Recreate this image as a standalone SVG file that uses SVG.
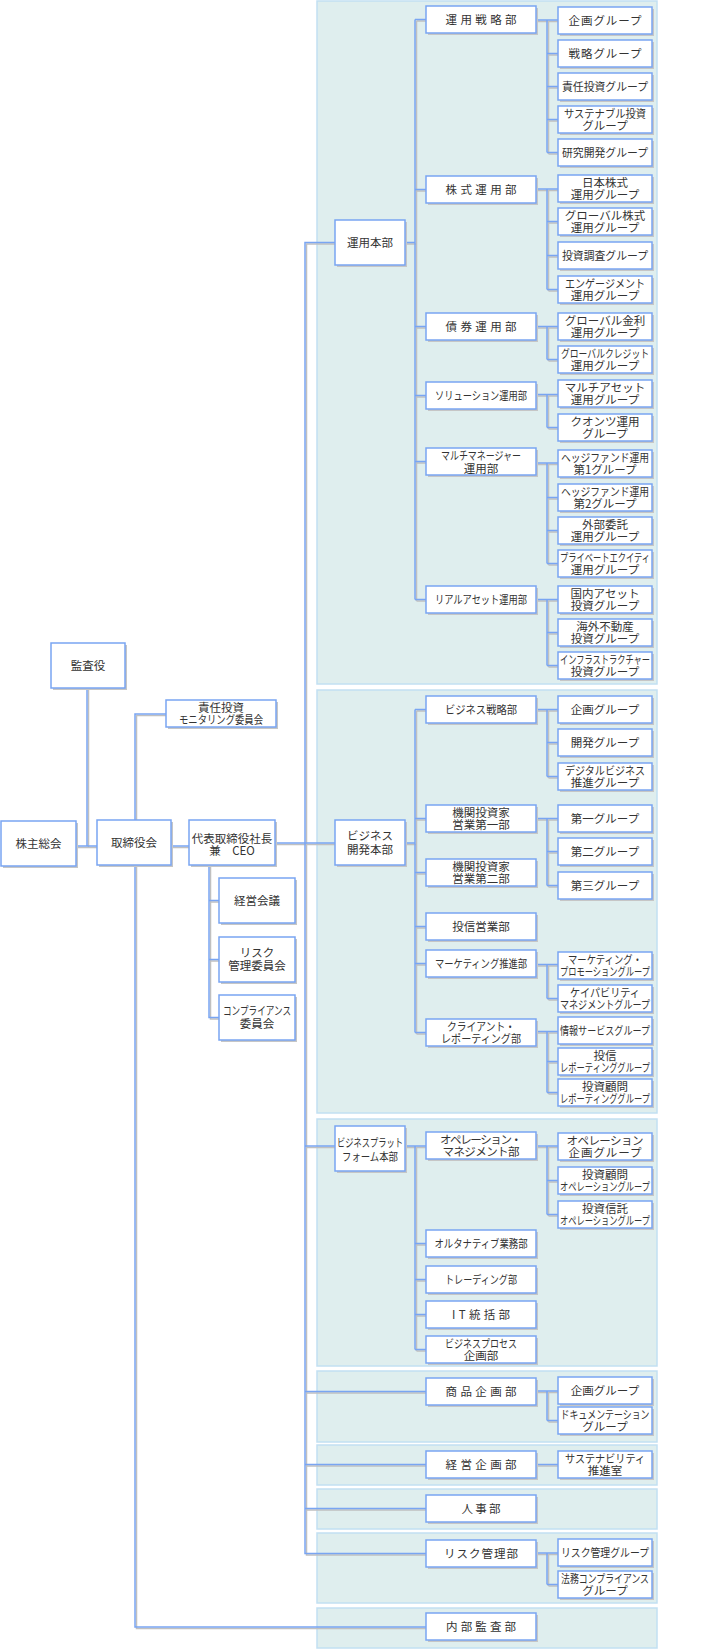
<svg xmlns="http://www.w3.org/2000/svg" xmlns:xlink="http://www.w3.org/1999/xlink" width="719" height="1649" viewBox="0 0 719 1649">
<style>
.bx{fill:#fff;stroke:#79a5f2;stroke-width:1.5}
.sh{fill:#c6c6c6}
.pn{fill:#dfeeee;stroke:#c2e0f2;stroke-width:1.5}
text{font-family:"Noto Sans CJK JP","Noto Sans",sans-serif;font-size:11.5px;fill:#333;text-anchor:middle}
</style>
<defs>
<g id="wires">
<path d="M87 688V846M76 846H97M135 820V714H166M135 865V1627H426M171 846H189M275 843H335M209 865V1017.5H219M209 900.5H219M209 959.5H219"/>
<path d="M335 242.5H305V1553.5H426M305 1146H335M305 1391.5H426M305 1464.5H426M305 1508.5H426"/>
<path d="M405 242.5H415M415 19.5V599.5M415 19.5H426M415 189.5H426M415 326.5H426M415 395.5H426M415 461.5H426M415 599.5H426"/>
<path d="M536 20H558M547 20V152.5M547 53.5H558M547 86.5H558M547 119.5H558M547 152.5H558"/>
<path d="M536 189H558M547 189V289.5M547 221.5H558M547 255.5H558M547 289.5H558"/>
<path d="M536 326.5H558M547 326.5V359.5M547 359.5H558"/>
<path d="M536 394.5H558M547 394.5V427.5M547 427.5H558"/>
<path d="M536 463H558M547 463V563.5M547 497.5H558M547 530.5H558M547 563.5H558"/>
<path d="M536 599.5H558M547 599.5V665.5M547 632.5H558M547 665.5H558"/>
<path d="M405 843H415M415 709.5V1032.5M415 709.5H426M415 818.5H426M415 872.5H426M415 926.5H426M415 963.5H426M415 1032.5H426"/>
<path d="M536 709.5H558M547 709.5V776.5M547 742.5H558M547 776.5H558"/>
<path d="M536 818.5H558M547 818.5V885.5M547 851.5H558M547 885.5H558"/>
<path d="M536 964.5H558M547 964.5V998.5M547 998.5H558"/>
<path d="M536 1031.5H558M547 1031.5V1092.5M547 1061.5H558M547 1092.5H558"/>
<path d="M405 1146H426M415 1146V1349.5M415 1243.5H426M415 1279.5H426M415 1314.5H426M415 1349.5H426"/>
<path d="M536 1146H558M547 1146V1214.5M547 1180.5H558M547 1214.5H558"/>
<path d="M536 1391H558M547 1391V1420.5M547 1420.5H558"/>
<path d="M536 1464.5H558"/>
<path d="M536 1553H558M547 1553V1584.5M547 1584.5H558"/>
</g>
</defs>

<g id="panels">
<rect class="pn" x="317" y="1" width="340" height="683"/>
<rect class="pn" x="317" y="690" width="340" height="423"/>
<rect class="pn" x="317" y="1119" width="340" height="247"/>
<rect class="pn" x="317" y="1371" width="340" height="71"/>
<rect class="pn" x="317" y="1445" width="340" height="40"/>
<rect class="pn" x="317" y="1489" width="340" height="40"/>
<rect class="pn" x="317" y="1533" width="340" height="70"/>
<rect class="pn" x="317" y="1608" width="340" height="40"/>
</g>

<g id="connectors" fill="none" stroke-width="1.5">
<use xlink:href="#wires" href="#wires" stroke="#c0c0c0" transform="translate(1.5,1.5)"/>
<g stroke="#79a5f2"><use xlink:href="#wires" href="#wires"/></g>
</g>

<g id="n-kansayaku"><rect class="sh" x="53" y="645" width="74" height="45"/><rect class="bx" x="51" y="643" width="74" height="45"/><text x="88" y="670">監査役</text></g>
<g id="n-kabunushi"><rect class="sh" x="3" y="823" width="75" height="45"/><rect class="bx" x="1" y="821" width="75" height="45"/><text x="38.5" y="848">株主総会</text></g>
<g id="n-torishimariyaku"><rect class="sh" x="99" y="822" width="74" height="45"/><rect class="bx" x="97" y="820" width="74" height="45"/><text x="134" y="847">取締役会</text></g>
<g id="n-ceo"><rect class="sh" x="191" y="822" width="86" height="45"/><rect class="bx" x="189" y="820" width="86" height="45"/><text><tspan x="232" y="842.5">代表取締役社長</tspan><tspan x="232" y="854.5">兼　CEO</tspan></text></g>
<g id="n-monitoring"><rect class="sh" x="168" y="702" width="110" height="27"/><rect class="bx" x="166" y="700" width="110" height="27"/><text><tspan x="221" y="711.5">責任投資</tspan><tspan x="221" y="724" textLength="84" lengthAdjust="spacingAndGlyphs">モニタリング委員会</tspan></text></g>
<g id="n-keiei-kaigi"><rect class="sh" x="221" y="880" width="76" height="45"/><rect class="bx" x="219" y="878" width="76" height="45"/><text x="257" y="905">経営会議</text></g>
<g id="n-risk-iinkai"><rect class="sh" x="221" y="939" width="76" height="45"/><rect class="bx" x="219" y="937" width="76" height="45"/><text><tspan x="257" y="957">リスク</tspan><tspan x="257" y="970">管理委員会</tspan></text></g>
<g id="n-compliance-iinkai"><rect class="sh" x="221" y="997" width="76" height="45"/><rect class="bx" x="219" y="995" width="76" height="45"/><text><tspan x="257" y="1015" textLength="68" lengthAdjust="spacingAndGlyphs">コンプライアンス</tspan><tspan x="257" y="1028">委員会</tspan></text></g>

<g id="n-unyo-honbu"><rect class="sh" x="337" y="222" width="70" height="45"/><rect class="bx" x="335" y="220" width="70" height="45"/><text x="370" y="247">運用本部</text></g>
<g id="n-bizdev-honbu"><rect class="sh" x="337" y="822" width="70" height="45"/><rect class="bx" x="335" y="820" width="70" height="45"/><text><tspan x="370" y="839.5">ビジネス</tspan><tspan x="370" y="853.5">開発本部</tspan></text></g>
<g id="n-bizplat-honbu"><rect class="sh" x="337" y="1128" width="70" height="45"/><rect class="bx" x="335" y="1126" width="70" height="45"/><text><tspan x="370" y="1147" textLength="66" lengthAdjust="spacingAndGlyphs">ビジネスプラット</tspan><tspan x="370" y="1161" textLength="56" lengthAdjust="spacingAndGlyphs">フォーム本部</tspan></text></g>

<g id="n-unyo-senryaku"><rect class="sh" x="428" y="8" width="110" height="27"/><rect class="bx" x="426" y="6" width="110" height="27"/><text x="481" y="23.5" textLength="71" lengthAdjust="spacing">運用戦略部</text></g>
<g id="n-kabushiki"><rect class="sh" x="428" y="178" width="110" height="27"/><rect class="bx" x="426" y="176" width="110" height="27"/><text x="481" y="193.5" textLength="71" lengthAdjust="spacing">株式運用部</text></g>
<g id="n-saiken"><rect class="sh" x="428" y="315" width="110" height="27"/><rect class="bx" x="426" y="313" width="110" height="27"/><text x="481" y="330.5" textLength="71" lengthAdjust="spacing">債券運用部</text></g>
<g id="n-solution"><rect class="sh" x="428" y="384" width="110" height="27"/><rect class="bx" x="426" y="382" width="110" height="27"/><text x="481" y="399.5" textLength="92" lengthAdjust="spacingAndGlyphs">ソリューション運用部</text></g>
<g id="n-multi"><rect class="sh" x="428" y="450" width="110" height="27"/><rect class="bx" x="426" y="448" width="110" height="27"/><text><tspan x="481" y="459.5" textLength="80" lengthAdjust="spacingAndGlyphs">マルチマネージャー</tspan><tspan x="481" y="472.5">運用部</tspan></text></g>
<g id="n-realasset"><rect class="sh" x="428" y="588" width="110" height="27"/><rect class="bx" x="426" y="586" width="110" height="27"/><text x="481" y="603.5" textLength="92" lengthAdjust="spacingAndGlyphs">リアルアセット運用部</text></g>

<g id="g-kikaku1"><rect class="sh" x="560" y="9" width="94" height="27"/><rect class="bx" x="558" y="7" width="94" height="27"/><text x="605" y="24.5" textLength="73" lengthAdjust="spacing">企画グループ</text></g>
<g id="g-senryaku"><rect class="sh" x="560" y="42" width="94" height="27"/><rect class="bx" x="558" y="40" width="94" height="27"/><text x="605" y="57.5" textLength="73" lengthAdjust="spacing">戦略グループ</text></g>
<g id="g-sekinin"><rect class="sh" x="560" y="75" width="94" height="27"/><rect class="bx" x="558" y="73" width="94" height="27"/><text x="605" y="90.5" textLength="86" lengthAdjust="spacingAndGlyphs">責任投資グループ</text></g>
<g id="g-sustainable"><rect class="sh" x="560" y="108" width="94" height="27"/><rect class="bx" x="558" y="106" width="94" height="27"/><text><tspan x="605" y="117.5" textLength="82" lengthAdjust="spacingAndGlyphs">サステナブル投資</tspan><tspan x="605" y="130">グループ</tspan></text></g>
<g id="g-kenkyu"><rect class="sh" x="560" y="141" width="94" height="27"/><rect class="bx" x="558" y="139" width="94" height="27"/><text x="605" y="156.5" textLength="86" lengthAdjust="spacingAndGlyphs">研究開発グループ</text></g>

<g id="g-nihon"><rect class="sh" x="560" y="177" width="94" height="27"/><rect class="bx" x="558" y="175" width="94" height="27"/><text><tspan x="605" y="186.5">日本株式</tspan><tspan x="605" y="199">運用グループ</tspan></text></g>
<g id="g-global-kabu"><rect class="sh" x="560" y="210" width="94" height="27"/><rect class="bx" x="558" y="208" width="94" height="27"/><text><tspan x="605" y="219.5">グローバル株式</tspan><tspan x="605" y="232">運用グループ</tspan></text></g>
<g id="g-chosa"><rect class="sh" x="560" y="244" width="94" height="27"/><rect class="bx" x="558" y="242" width="94" height="27"/><text x="605" y="259.5" textLength="86" lengthAdjust="spacingAndGlyphs">投資調査グループ</text></g>
<g id="g-engagement"><rect class="sh" x="560" y="278" width="94" height="27"/><rect class="bx" x="558" y="276" width="94" height="27"/><text><tspan x="605" y="287.5" textLength="80" lengthAdjust="spacingAndGlyphs">エンゲージメント</tspan><tspan x="605" y="300">運用グループ</tspan></text></g>
<g id="g-kinri"><rect class="sh" x="560" y="315" width="94" height="27"/><rect class="bx" x="558" y="313" width="94" height="27"/><text><tspan x="605" y="324.5">グローバル金利</tspan><tspan x="605" y="337">運用グループ</tspan></text></g>
<g id="g-credit"><rect class="sh" x="560" y="348" width="94" height="27"/><rect class="bx" x="558" y="346" width="94" height="27"/><text><tspan x="605" y="357.5" textLength="88" lengthAdjust="spacingAndGlyphs">グローバルクレジット</tspan><tspan x="605" y="370">運用グループ</tspan></text></g>
<g id="g-multiasset"><rect class="sh" x="560" y="382" width="94" height="27"/><rect class="bx" x="558" y="380" width="94" height="27"/><text><tspan x="605" y="391.5">マルチアセット</tspan><tspan x="605" y="404">運用グループ</tspan></text></g>
<g id="g-quants"><rect class="sh" x="560" y="416" width="94" height="27"/><rect class="bx" x="558" y="414" width="94" height="27"/><text><tspan x="605" y="425.5">クオンツ運用</tspan><tspan x="605" y="438">グループ</tspan></text></g>
<g id="g-hedge1"><rect class="sh" x="560" y="452" width="94" height="27"/><rect class="bx" x="558" y="450" width="94" height="27"/><text><tspan x="605" y="461.5" textLength="88" lengthAdjust="spacingAndGlyphs">ヘッジファンド運用</tspan><tspan x="605" y="474">第1グループ</tspan></text></g>
<g id="g-hedge2"><rect class="sh" x="560" y="486" width="94" height="27"/><rect class="bx" x="558" y="484" width="94" height="27"/><text><tspan x="605" y="495.5" textLength="88" lengthAdjust="spacingAndGlyphs">ヘッジファンド運用</tspan><tspan x="605" y="508">第2グループ</tspan></text></g>
<g id="g-gaibu"><rect class="sh" x="560" y="519" width="94" height="27"/><rect class="bx" x="558" y="517" width="94" height="27"/><text><tspan x="605" y="528.5">外部委託</tspan><tspan x="605" y="541">運用グループ</tspan></text></g>
<g id="g-pe"><rect class="sh" x="560" y="552" width="94" height="27"/><rect class="bx" x="558" y="550" width="94" height="27"/><text><tspan x="605" y="561.5" textLength="90" lengthAdjust="spacingAndGlyphs">プライベートエクイティ</tspan><tspan x="605" y="574">運用グループ</tspan></text></g>
<g id="g-kokunai"><rect class="sh" x="560" y="588" width="94" height="27"/><rect class="bx" x="558" y="586" width="94" height="27"/><text><tspan x="605" y="597.5">国内アセット</tspan><tspan x="605" y="610">投資グループ</tspan></text></g>
<g id="g-kaigai"><rect class="sh" x="560" y="621" width="94" height="27"/><rect class="bx" x="558" y="619" width="94" height="27"/><text><tspan x="605" y="630.5">海外不動産</tspan><tspan x="605" y="643">投資グループ</tspan></text></g>
<g id="g-infra"><rect class="sh" x="560" y="654" width="94" height="27"/><rect class="bx" x="558" y="652" width="94" height="27"/><text><tspan x="605" y="663.5" textLength="90" lengthAdjust="spacingAndGlyphs">インフラストラクチャー</tspan><tspan x="605" y="676">投資グループ</tspan></text></g>

<g id="n-biz-senryaku"><rect class="sh" x="428" y="698" width="110" height="27"/><rect class="bx" x="426" y="696" width="110" height="27"/><text x="481" y="713.5" textLength="72" lengthAdjust="spacingAndGlyphs">ビジネス戦略部</text></g>
<g id="n-kikan1"><rect class="sh" x="428" y="807" width="110" height="27"/><rect class="bx" x="426" y="805" width="110" height="27"/><text><tspan x="481" y="816.5">機関投資家</tspan><tspan x="481" y="829">営業第一部</tspan></text></g>
<g id="n-kikan2"><rect class="sh" x="428" y="861" width="110" height="27"/><rect class="bx" x="426" y="859" width="110" height="27"/><text><tspan x="481" y="870.5">機関投資家</tspan><tspan x="481" y="883">営業第二部</tspan></text></g>
<g id="n-toshin-eigyo"><rect class="sh" x="428" y="915" width="110" height="27"/><rect class="bx" x="426" y="913" width="110" height="27"/><text x="481" y="930.5">投信営業部</text></g>
<g id="n-marketing"><rect class="sh" x="428" y="952" width="110" height="27"/><rect class="bx" x="426" y="950" width="110" height="27"/><text x="481" y="967.5" textLength="92" lengthAdjust="spacingAndGlyphs">マーケティング推進部</text></g>
<g id="n-client"><rect class="sh" x="428" y="1021" width="110" height="27"/><rect class="bx" x="426" y="1019" width="110" height="27"/><text><tspan x="481" y="1030.5" textLength="68" lengthAdjust="spacingAndGlyphs">クライアント・</tspan><tspan x="481" y="1043" textLength="80" lengthAdjust="spacingAndGlyphs">レポーティング部</tspan></text></g>

<g id="g-kikaku2"><rect class="sh" x="560" y="698" width="94" height="27"/><rect class="bx" x="558" y="696" width="94" height="27"/><text x="605" y="713.5">企画グループ</text></g>
<g id="g-kaihatsu"><rect class="sh" x="560" y="731" width="94" height="27"/><rect class="bx" x="558" y="729" width="94" height="27"/><text x="605" y="746.5">開発グループ</text></g>
<g id="g-digital"><rect class="sh" x="560" y="765" width="94" height="27"/><rect class="bx" x="558" y="763" width="94" height="27"/><text><tspan x="605" y="774.5" textLength="80" lengthAdjust="spacingAndGlyphs">デジタルビジネス</tspan><tspan x="605" y="787">推進グループ</tspan></text></g>
<g id="g-dai1"><rect class="sh" x="560" y="807" width="94" height="27"/><rect class="bx" x="558" y="805" width="94" height="27"/><text x="605" y="822.5">第一グループ</text></g>
<g id="g-dai2"><rect class="sh" x="560" y="840" width="94" height="27"/><rect class="bx" x="558" y="838" width="94" height="27"/><text x="605" y="855.5">第二グループ</text></g>
<g id="g-dai3"><rect class="sh" x="560" y="874" width="94" height="27"/><rect class="bx" x="558" y="872" width="94" height="27"/><text x="605" y="889.5">第三グループ</text></g>
<g id="g-promotion"><rect class="sh" x="560" y="954" width="94" height="27"/><rect class="bx" x="558" y="952" width="94" height="27"/><text><tspan x="605" y="963.5" textLength="74" lengthAdjust="spacingAndGlyphs">マーケティング・</tspan><tspan x="605" y="976" textLength="90" lengthAdjust="spacingAndGlyphs">プロモーショングループ</tspan></text></g>
<g id="g-capability"><rect class="sh" x="560" y="987" width="94" height="27"/><rect class="bx" x="558" y="985" width="94" height="27"/><text><tspan x="605" y="996.5" textLength="70" lengthAdjust="spacingAndGlyphs">ケイパビリティ</tspan><tspan x="605" y="1009" textLength="90" lengthAdjust="spacingAndGlyphs">マネジメントグループ</tspan></text></g>
<g id="g-johoservice"><rect class="sh" x="560" y="1019" width="94" height="27"/><rect class="bx" x="558" y="1017" width="94" height="27"/><text x="605" y="1034.5" textLength="90" lengthAdjust="spacingAndGlyphs">情報サービスグループ</text></g>
<g id="g-toshin-rep"><rect class="sh" x="560" y="1050" width="94" height="27"/><rect class="bx" x="558" y="1048" width="94" height="27"/><text><tspan x="605" y="1059.5">投信</tspan><tspan x="605" y="1072" textLength="90" lengthAdjust="spacingAndGlyphs">レポーティンググループ</tspan></text></g>
<g id="g-komon-rep"><rect class="sh" x="560" y="1081" width="94" height="27"/><rect class="bx" x="558" y="1079" width="94" height="27"/><text><tspan x="605" y="1090.5">投資顧問</tspan><tspan x="605" y="1103" textLength="90" lengthAdjust="spacingAndGlyphs">レポーティンググループ</tspan></text></g>

<g id="n-operation"><rect class="sh" x="428" y="1134" width="110" height="27"/><rect class="bx" x="426" y="1132" width="110" height="27"/><text><tspan x="481" y="1143.5" textLength="82" lengthAdjust="spacing">オペレーション・</tspan><tspan x="481" y="1156" textLength="77" lengthAdjust="spacing">マネジメント部</tspan></text></g>
<g id="n-alternative"><rect class="sh" x="428" y="1232" width="110" height="27"/><rect class="bx" x="426" y="1230" width="110" height="27"/><text x="481" y="1247.5" textLength="93" lengthAdjust="spacingAndGlyphs">オルタナティブ業務部</text></g>
<g id="n-trading"><rect class="sh" x="428" y="1268" width="110" height="27"/><rect class="bx" x="426" y="1266" width="110" height="27"/><text x="481" y="1283.5" textLength="72" lengthAdjust="spacingAndGlyphs">トレーディング部</text></g>
<g id="n-it"><rect class="sh" x="428" y="1303" width="110" height="27"/><rect class="bx" x="426" y="1301" width="110" height="27"/><text x="481" y="1318.5" textLength="58" lengthAdjust="spacing">IT統括部</text></g>
<g id="n-bizprocess"><rect class="sh" x="428" y="1338" width="110" height="27"/><rect class="bx" x="426" y="1336" width="110" height="27"/><text><tspan x="481" y="1347.5" textLength="72" lengthAdjust="spacingAndGlyphs">ビジネスプロセス</tspan><tspan x="481" y="1360">企画部</tspan></text></g>

<g id="g-ope-kikaku"><rect class="sh" x="560" y="1135" width="94" height="27"/><rect class="bx" x="558" y="1133" width="94" height="27"/><text><tspan x="605" y="1144.5" textLength="77" lengthAdjust="spacing">オペレーション</tspan><tspan x="605" y="1157" textLength="73" lengthAdjust="spacing">企画グループ</tspan></text></g>
<g id="g-komon-ope"><rect class="sh" x="560" y="1169" width="94" height="27"/><rect class="bx" x="558" y="1167" width="94" height="27"/><text><tspan x="605" y="1178.5">投資顧問</tspan><tspan x="605" y="1191" textLength="90" lengthAdjust="spacingAndGlyphs">オペレーショングループ</tspan></text></g>
<g id="g-shintaku-ope"><rect class="sh" x="560" y="1203" width="94" height="27"/><rect class="bx" x="558" y="1201" width="94" height="27"/><text><tspan x="605" y="1212.5">投資信託</tspan><tspan x="605" y="1225" textLength="90" lengthAdjust="spacingAndGlyphs">オペレーショングループ</tspan></text></g>

<g id="n-shohin"><rect class="sh" x="428" y="1380" width="110" height="27"/><rect class="bx" x="426" y="1378" width="110" height="27"/><text x="481" y="1395.5" textLength="71" lengthAdjust="spacing">商品企画部</text></g>
<g id="g-kikaku3"><rect class="sh" x="560" y="1379" width="94" height="27"/><rect class="bx" x="558" y="1377" width="94" height="27"/><text x="605" y="1394.5">企画グループ</text></g>
<g id="g-document"><rect class="sh" x="560" y="1409" width="94" height="27"/><rect class="bx" x="558" y="1407" width="94" height="27"/><text><tspan x="605" y="1418.5" textLength="89" lengthAdjust="spacingAndGlyphs">ドキュメンテーション</tspan><tspan x="605" y="1431">グループ</tspan></text></g>

<g id="n-keiei-kikaku"><rect class="sh" x="428" y="1453" width="110" height="27"/><rect class="bx" x="426" y="1451" width="110" height="27"/><text x="481" y="1468.5" textLength="71" lengthAdjust="spacing">経営企画部</text></g>
<g id="g-sustainability"><rect class="sh" x="560" y="1453" width="94" height="27"/><rect class="bx" x="558" y="1451" width="94" height="27"/><text><tspan x="605" y="1462.5" textLength="80" lengthAdjust="spacingAndGlyphs">サステナビリティ</tspan><tspan x="605" y="1475">推進室</tspan></text></g>

<g id="n-jinji"><rect class="sh" x="428" y="1497" width="110" height="27"/><rect class="bx" x="426" y="1495" width="110" height="27"/><text x="481" y="1512.5" textLength="39" lengthAdjust="spacing">人事部</text></g>

<g id="n-risk-kanri"><rect class="sh" x="428" y="1542" width="110" height="27"/><rect class="bx" x="426" y="1540" width="110" height="27"/><text x="481" y="1557.5" textLength="74" lengthAdjust="spacing">リスク管理部</text></g>
<g id="g-risk"><rect class="sh" x="560" y="1541" width="94" height="27"/><rect class="bx" x="558" y="1539" width="94" height="27"/><text x="605" y="1556.5" textLength="88" lengthAdjust="spacingAndGlyphs">リスク管理グループ</text></g>
<g id="g-homu"><rect class="sh" x="560" y="1573" width="94" height="27"/><rect class="bx" x="558" y="1571" width="94" height="27"/><text><tspan x="605" y="1582.5" textLength="88" lengthAdjust="spacingAndGlyphs">法務コンプライアンス</tspan><tspan x="605" y="1595">グループ</tspan></text></g>

<g id="n-naibu-kansa"><rect class="sh" x="428" y="1615" width="110" height="27"/><rect class="bx" x="426" y="1613" width="110" height="27"/><text x="481" y="1630.5" textLength="70" lengthAdjust="spacing">内部監査部</text></g>
</svg>
